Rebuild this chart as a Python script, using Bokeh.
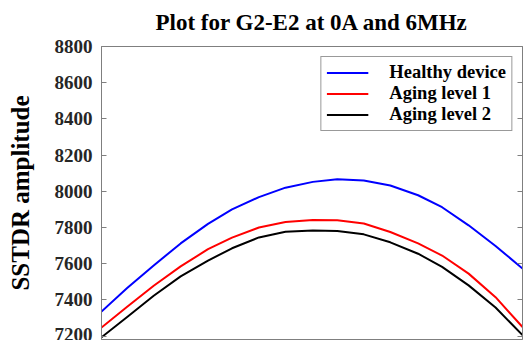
from bokeh.plotting import figure
from bokeh.models import Range1d, FixedTicker, LinearAxis
from bokeh.embed import file_html
from bokeh.resources import INLINE

# ---- data ----
x = [0, 6.1, 12.4, 18.8, 25.3, 31.0, 37.4, 43.7, 50.2, 56.0, 62.3, 68.6, 75.2, 80.9, 87.2, 93.6, 100]
healthy = [7335, 7465, 7590, 7712, 7820, 7900, 7968, 8020, 8052, 8066,
           8060, 8032, 7978, 7912, 7812, 7698, 7573]
aging1 = [7247, 7362, 7478, 7585, 7680, 7744, 7800, 7830, 7841, 7840,
          7822, 7775, 7712, 7645, 7545, 7415, 7250]
aging2 = [7193, 7305, 7423, 7530, 7617, 7685, 7745, 7776, 7783, 7781,
          7762, 7718, 7655, 7582, 7480, 7358, 7205]
series_names = ["Healthy device", "Aging level 1", "Aging level 2"]
y_ticks = [7200, 7400, 7600, 7800, 8000, 8200, 8400, 8600, 8800]

FONT = "Liberation Serif"
AX = "#7f7f7f"

p = figure(width=523, height=340, output_backend="svg", toolbar_location=None,
           x_range=Range1d(0, 100), y_range=Range1d(7181, 8800),
           title="Plot for G2-E2 at 0A and 6MHz",
           min_border_left=101, min_border_right=1, min_border_top=46,
           min_border_bottom=1)
p.background_fill_color = "white"
p.border_fill_color = "white"
p.outline_line_color = AX
p.xgrid.visible = False
p.ygrid.visible = False
p.xaxis.visible = False

p.title.text_font = FONT
p.title.text_font_style = "bold"
p.title.text_font_size = "23px"
p.title.align = "center"
p.title.vertical_align = "top"
p.title.text_color = "#000000"
p.title.standoff = 19

ya = p.yaxis[0]
ya.ticker = FixedTicker(ticks=y_ticks)
ya.major_label_text_font = FONT
ya.major_label_text_font_style = "bold"
ya.major_label_text_font_size = "19px"
ya.major_label_text_color = "#262626"
ya.major_tick_in = 5
ya.major_tick_out = 0
ya.minor_tick_line_color = None
ya.axis_line_color = AX
ya.major_tick_line_color = AX
ya.major_label_standoff = 9
ya.axis_label = "SSTDR amplitude"
ya.axis_label_text_font = FONT
ya.axis_label_text_font_style = "bold"
ya.axis_label_text_font_size = "25px"
ya.axis_label_text_color = "#000000"
ya.axis_label_standoff = 18

ra = LinearAxis(ticker=FixedTicker(ticks=y_ticks),
                major_label_overrides={t: "" for t in y_ticks},
                major_tick_in=5, major_tick_out=0, minor_tick_line_color=None,
                axis_line_color=AX, major_tick_line_color=AX, major_label_standoff=0)
p.add_layout(ra, "right")

colors = ["#0000ff", "#ff0000", "#000000"]
for ys, name, c in zip([healthy, aging1, aging2], series_names, colors):
    p.line(x, ys, line_color=c, line_width=2, line_join="round", legend_label=name)

lg = p.legend[0]
lg.location = "top_right"
lg.margin = 10
lg.padding = 5
lg.spacing = 0
lg.glyph_width = 42
lg.glyph_height = 19
lg.label_height = 19
lg.label_standoff = 21
lg.label_text_font = FONT
lg.label_text_font_style = "bold"
lg.label_text_font_size = "18.5px"
lg.label_text_color = "#000000"
lg.border_line_color = "#333333"
lg.border_line_width = 1
lg.background_fill_color = "white"
lg.background_fill_alpha = 1.0

open("out.html", "w").write(file_html(p, INLINE))
